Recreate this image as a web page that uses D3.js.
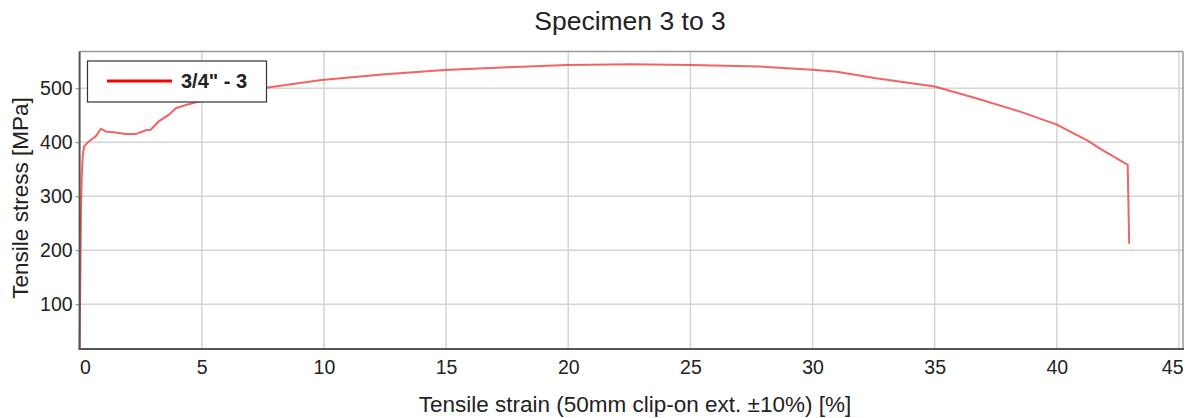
<!DOCTYPE html>
<head>
  <meta charset="utf-8">
  <style>
  body { margin: 0; background: #fff; }
  text { font-family: "Liberation Sans", Arial, sans-serif; fill: #222; }
  .grid line { stroke: #d4d4d4; stroke-width: 1.5px; }
  .curve { fill: none; stroke: #f03c3c; stroke-opacity: 0.8; stroke-width: 2px; }
  </style>
  <script src="https://d3js.org/d3.v7.min.js"></script>
</head>
<body>
  <svg width="1192" height="418"></svg>
  <script>

  // strain [%] and stress [MPa]
  var strain = [0, 0.03, 0.06, 0.09, 0.13, 0.18, 0.39, 0.66, 0.87, 1.07, 1.48, 1.89, 2.3, 2.71, 2.91,
    3.25, 3.66, 3.94, 4.35, 4.76, 5.5, 6.5, 7.63, 9.9, 12.5, 14.95, 17.5, 19.94, 22.6, 25,
    27.85, 30, 31, 32.6, 35, 36.7, 38.5, 40, 41.3, 41.7, 42.9, 42.96];
  var stress = [20, 150, 280, 340, 375, 392, 402, 411, 425, 420, 418, 415, 415, 422, 423,
    439, 451, 463, 469, 474, 481, 490, 501, 515, 526, 533.6, 539, 543, 544.6, 543,
    540, 534, 530.7, 518.5, 503, 481.5, 456.7, 432.5, 402, 390, 358, 212];
  var xTicks = [0, 5, 10, 15, 20, 25, 30, 35, 40, 45];
  var yTicks = [100, 200, 300, 400, 500];
  var seriesName = "3/4\" - 3";

  var svg = d3.select("svg");
  var pLeft = 79.6, pRight = 1183, pTop = 51.5, pBottom = 349;

  var x = d3.scaleLinear().domain([0, 45]).range([pLeft, 1179]);
  var y = d3.scaleLinear().domain([17, 568]).range([pBottom, pTop]);

  // grid
  var grid = svg.append("g").attr("class", "grid");
  grid.selectAll(".gx").data(xTicks.slice(1)).enter().append("line")
    .attr("x1", function(d) { return x(d); }).attr("x2", function(d) { return x(d); })
    .attr("y1", pTop).attr("y2", pBottom);
  grid.selectAll(".gy").data(yTicks).enter().append("line")
    .attr("x1", pLeft).attr("x2", pRight)
    .attr("y1", function(d) { return y(d); }).attr("y2", function(d) { return y(d); });

  // frame
  svg.append("line").attr("x1", pLeft).attr("x2", pRight).attr("y1", pTop).attr("y2", pTop)
    .attr("stroke", "#999").attr("stroke-width", 1.5);
  svg.append("line").attr("x1", pRight).attr("x2", pRight).attr("y1", pTop).attr("y2", pBottom)
    .attr("stroke", "#999").attr("stroke-width", 1.5);

  // axes
  var xAxis = d3.axisBottom(x).tickValues(xTicks).tickSize(0).tickPadding(11);
  var gx = svg.append("g").attr("transform", "translate(0," + pBottom + ")").call(xAxis);
  gx.select(".domain").remove();
  gx.selectAll("text").attr("font-size", 19.5).attr("font-family", null)
    .attr("text-anchor", function(d, i) { return i === 0 ? "start" : (d === 45 ? "end" : "middle"); })
    .attr("dx", function(d) { return d === 45 ? 4 : 0; });

  var yAxis = d3.axisLeft(y).tickValues(yTicks).tickSize(4).tickPadding(3);
  var gy = svg.append("g").attr("transform", "translate(" + pLeft + ",0)").call(yAxis);
  gy.select(".domain").remove();
  gy.selectAll("line").attr("stroke", "#888");
  gy.selectAll("text").attr("font-size", 19.5).attr("font-family", null);

  var pts = strain.map(function(s, i) { return [s, stress[i]]; });
  var line = d3.line().x(function(d) { return x(d[0]); }).y(function(d) { return y(d[1]); });
  svg.append("path").datum(pts).attr("class", "curve").attr("d", line);

  svg.append("line").attr("x1", pLeft).attr("x2", pLeft).attr("y1", pTop).attr("y2", pBottom + 1)
    .attr("stroke", "#555").attr("stroke-width", 2);
  svg.append("line").attr("x1", pLeft - 1).attr("x2", pRight + 1).attr("y1", pBottom).attr("y2", pBottom)
    .attr("stroke", "#555").attr("stroke-width", 2);

  // legend
  var lg = svg.append("g");
  lg.append("rect").attr("x", 87.5).attr("y", 61).attr("width", 179).attr("height", 41)
    .attr("fill", "#fff").attr("stroke", "#333").attr("stroke-width", 1.2);
  lg.append("line").attr("x1", 107).attr("x2", 172).attr("y1", 81).attr("y2", 81)
    .attr("stroke", "#ff0000").attr("stroke-width", 3);
  lg.append("text").attr("x", 181).attr("y", 88).attr("font-size", 20).attr("font-weight", "bold")
    .text(seriesName);

  // titles
  svg.append("text").attr("x", 630).attr("y", 30).attr("text-anchor", "middle")
    .attr("font-size", 26.5).text("Specimen 3 to 3");
  svg.append("text").attr("x", 635).attr("y", 412).attr("text-anchor", "middle")
    .attr("font-size", 22.5).text("Tensile strain (50mm clip-on ext. \u00b110%) [%]");
  svg.append("text").attr("transform", "translate(28,198) rotate(-90)").attr("text-anchor", "middle")
    .attr("font-size", 22.5).text("Tensile stress [MPa]");

  </script>
</body>
